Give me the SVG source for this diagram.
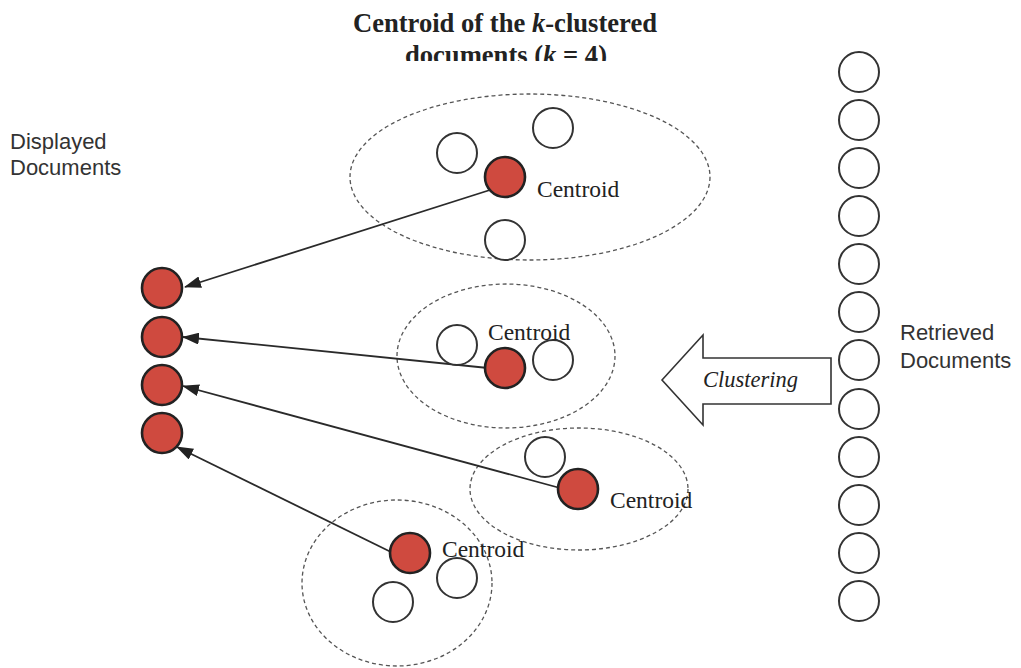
<svg xmlns="http://www.w3.org/2000/svg" width="1021" height="668" viewBox="0 0 1021 668">
<style>
.title{font-family:"Liberation Serif","Times New Roman",serif;font-weight:bold;font-size:26.6px;fill:#222}
.lbl{font-family:"Liberation Serif","Times New Roman",serif;font-size:23.5px;fill:#222}
.sans{font-family:"Liberation Sans",Arial,sans-serif;font-size:22px;fill:#333}
.clus{fill:none;stroke:#555;stroke-width:1.3;stroke-dasharray:4 3}
.doc{fill:#fff;stroke:#333;stroke-width:2}
.cen{fill:#cf4a3f;stroke:#222;stroke-width:2.6}
.conn{stroke:#2a2a2a;stroke-width:1.8;fill:none}
</style>
<defs>
<marker id="ah" markerUnits="userSpaceOnUse" markerWidth="17" markerHeight="12" viewBox="0 0 17 12" refX="16" refY="6" orient="auto">
<path d="M0,0 L17,6 L0,12 Z" fill="#222"/>
</marker>
<clipPath id="clipT"><rect x="0" y="0" width="1021" height="61"/></clipPath>
</defs>
<rect width="1021" height="668" fill="#fff"/>
<g id="title">
<text class="title" x="505" y="32" text-anchor="middle">Centroid of the <tspan font-style="italic">k</tspan>-clustered</text>
<text class="title" x="506" y="64" text-anchor="middle" clip-path="url(#clipT)">documents (<tspan font-style="italic">k</tspan> = 4)</text>
</g>
<g id="displayed-label"><text class="sans" x="10" y="149">Displayed</text><text class="sans" x="10" y="175">Documents</text></g>
<g id="retrieved-label"><text class="sans" x="900" y="340">Retrieved</text><text class="sans" x="900" y="368">Documents</text></g>
<g id="cluster-boundaries">
<ellipse class="clus" cx="530" cy="177" rx="180" ry="83"/>
<ellipse class="clus" cx="506" cy="356" rx="109" ry="72"/>
<ellipse class="clus" cx="579" cy="489" rx="109" ry="61"/>
<ellipse class="clus" cx="397" cy="583" rx="95" ry="83"/>
</g>
<g id="connectors">
<line class="conn" x1="490" y1="190" x2="185" y2="287" marker-end="url(#ah)"/>
<line class="conn" x1="488" y1="368" x2="183" y2="337" marker-end="url(#ah)"/>
<line class="conn" x1="560" y1="488" x2="183" y2="386" marker-end="url(#ah)"/>
<line class="conn" x1="393" y1="553" x2="177" y2="447" marker-end="url(#ah)"/>
</g>
<g id="clustering-arrow">
<polygon points="662,380 703,335 703,358 831,358 831,404 703,404 703,425" fill="#fff" stroke="#333" stroke-width="1.6"/>
<text x="703" y="387" font-family="'Liberation Serif','Times New Roman',serif" font-style="italic" font-size="22.5" fill="#222">Clustering</text>
</g>
<g id="cluster-1">
<circle class="doc" cx="457" cy="153" r="20"/>
<circle class="doc" cx="553" cy="128" r="20"/>
<circle class="doc" cx="505" cy="240" r="20"/>
<circle class="cen" cx="505" cy="177" r="20"/>
<text class="lbl" x="537" y="197">Centroid</text>
</g>
<g id="cluster-2">
<circle class="doc" cx="457" cy="345" r="20"/>
<circle class="doc" cx="553" cy="360" r="20"/>
<circle class="cen" cx="505" cy="368" r="20"/>
<text class="lbl" x="488" y="340">Centroid</text>
</g>
<g id="cluster-3">
<circle class="doc" cx="545" cy="457" r="20"/>
<circle class="cen" cx="578" cy="489" r="20"/>
<text class="lbl" x="610" y="508">Centroid</text>
</g>
<g id="cluster-4">
<circle class="doc" cx="457" cy="578" r="20"/>
<circle class="doc" cx="393" cy="602" r="20"/>
<circle class="cen" cx="410" cy="553" r="20"/>
<text class="lbl" x="442" y="557">Centroid</text>
</g>
<g id="displayed-documents">
<circle class="cen" cx="162" cy="288" r="20"/>
<circle class="cen" cx="162" cy="337" r="20"/>
<circle class="cen" cx="162" cy="385" r="20"/>
<circle class="cen" cx="162" cy="433" r="20"/>
</g>
<g id="retrieved-documents">
<circle class="doc" cx="859" cy="72" r="20"/>
<circle class="doc" cx="859" cy="120" r="20"/>
<circle class="doc" cx="859" cy="168" r="20"/>
<circle class="doc" cx="859" cy="216" r="20"/>
<circle class="doc" cx="859" cy="264" r="20"/>
<circle class="doc" cx="859" cy="312" r="20"/>
<circle class="doc" cx="859" cy="360" r="20"/>
<circle class="doc" cx="859" cy="409" r="20"/>
<circle class="doc" cx="859" cy="457" r="20"/>
<circle class="doc" cx="859" cy="505" r="20"/>
<circle class="doc" cx="859" cy="553" r="20"/>
<circle class="doc" cx="859" cy="601" r="20"/>
</g>
</svg>
